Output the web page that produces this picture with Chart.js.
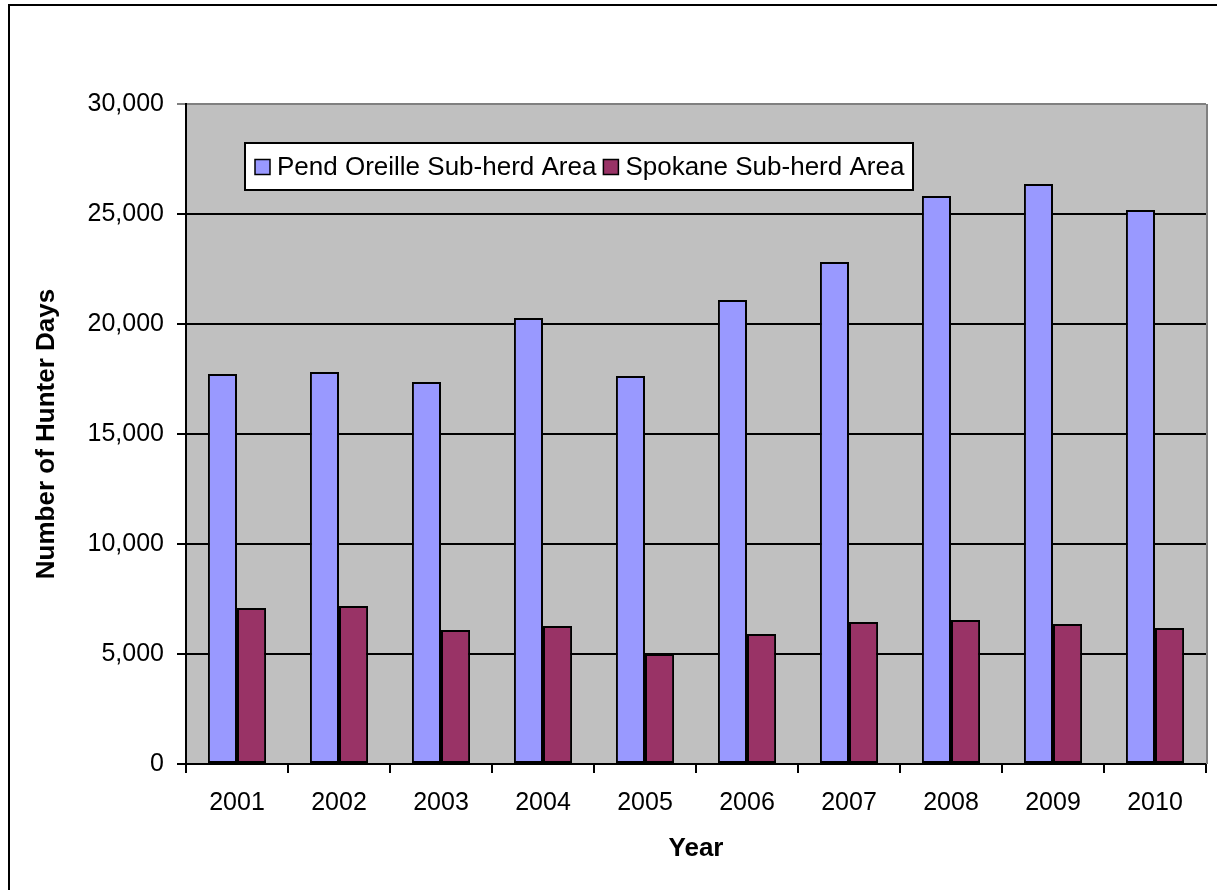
<!DOCTYPE html>
<html>
<head>
<meta charset="utf-8">
<script src="https://cdn.jsdelivr.net/npm/chart.js@4"></script>
<style>
  html, body { margin: 0; padding: 0; background: #fff; }
  #chart { display: block; }
</style>
</head>
<body>
<canvas id="chart" width="1217" height="890"></canvas>
<script>
// data
const years = ['2001', '2002', '2003', '2004', '2005', '2006', '2007', '2008', '2009', '2010'];
const pendOreille = [17730, 17820, 17360, 20270, 17640, 21090, 22820, 25820, 26360, 25180];
const spokane = [7090, 7180, 6090, 6270, 5000, 5910, 6450, 6550, 6360, 6180];
const seriesNames = ['Pend Oreille Sub-herd Area', 'Spokane Sub-herd Area'];
const seriesColors = ['#9999FF', '#993366'];

const FONT = '"Liberation Sans", Arial, sans-serif';

// plot background, outer frame, and the floating legend box
const decorPlugin = {
    id: 'decor',
    beforeDraw(chart) {
        const ctx = chart.ctx;
        const a = chart.chartArea;
        ctx.save();
        ctx.fillStyle = '#fff';
        ctx.fillRect(0, 0, chart.width, chart.height);
        ctx.fillStyle = '#C0C0C0';
        ctx.fillRect(a.left, a.top, a.right - a.left, a.bottom - a.top);
        ctx.restore();
    },
    afterDraw(chart) {
        const ctx = chart.ctx;
        const a = chart.chartArea;
        ctx.save();
        // gray right edge of the plot area
        ctx.strokeStyle = '#808080';
        ctx.lineWidth = 2;
        ctx.beginPath();
        ctx.moveTo(a.right + 1, a.top);
        ctx.lineTo(a.right + 1, a.bottom);
        ctx.stroke();

        // outer frame
        ctx.strokeStyle = '#000';
        ctx.lineWidth = 2;
        ctx.strokeRect(9, 5, chart.width + 10, chart.height + 10);

        // legend
        const lx = 245, ly = 143, lw = 668, lh = 47;
        ctx.fillStyle = '#fff';
        ctx.fillRect(lx, ly, lw, lh);
        ctx.strokeStyle = '#000';
        ctx.lineWidth = 2;
        ctx.strokeRect(lx, ly, lw, lh);
        ctx.font = '26px ' + FONT;
        ctx.textBaseline = 'middle';
        let x = lx + 10;
        const cy = ly + lh / 2;
        chart.data.datasets.forEach((ds) => {
            ctx.fillStyle = ds.backgroundColor;
            ctx.fillRect(x, cy - 7, 15, 15);
            ctx.lineWidth = 1.5;
            ctx.strokeStyle = '#000';
            ctx.strokeRect(x, cy - 7, 15, 15);
            ctx.fillStyle = '#000';
            ctx.fillText(ds.label, x + 22, cy + 1);
            x += 22 + ctx.measureText(ds.label).width + 7;
        });
        ctx.restore();
    }
};

const ctx = document.getElementById('chart').getContext('2d');
new Chart(ctx, {
    type: 'bar',
    data: {
        labels: years,
        datasets: [
            {
                label: seriesNames[0],
                data: pendOreille,
                backgroundColor: seriesColors[0],
                borderColor: '#000',
                borderWidth: 2,
                borderSkipped: false
            },
            {
                label: seriesNames[1],
                data: spokane,
                backgroundColor: seriesColors[1],
                borderColor: '#000',
                borderWidth: 2,
                borderSkipped: false
            }
        ]
    },
    options: {
        responsive: false,
        animation: false,
        layout: { padding: { top: 104, right: 11, left: 0, bottom: 0 } },
        datasets: { bar: { categoryPercentage: 0.57, barPercentage: 1 } },
        plugins: {
            legend: { display: false },
            tooltip: { enabled: false }
        },
        scales: {
            x: {
                offset: true,
                grid: {
                    offset: true,
                    drawOnChartArea: false,
                    drawTicks: true,
                    tickLength: 9,
                    color: '#000',
                    lineWidth: 2
                },
                border: { display: true, color: '#000', width: 2 },
                ticks: {
                    color: '#000',
                    padding: 15,
                    font: { family: FONT, size: 25 }
                },
                title: {
                    display: true,
                    text: 'Year',
                    color: '#000',
                    font: { family: FONT, size: 26, weight: 'bold' },
                    padding: { top: 0, bottom: 26 }
                },
                afterFit(scale) { scale.height = 126; }
            },
            y: {
                min: 0,
                max: 30000,
                grid: {
                    color: (c) => (c.tick && c.tick.value === 30000 ? '#808080' : '#000'),
                    lineWidth: 2,
                    tickLength: 9,
                    drawTicks: true
                },
                border: { display: true, color: '#000', width: 2 },
                ticks: {
                    stepSize: 5000,
                    color: '#000',
                    padding: 13,
                    font: { family: FONT, size: 25 },
                    callback: (v) => v.toLocaleString('en-US')
                },
                title: {
                    display: true,
                    text: 'Number of Hunter Days',
                    color: '#000',
                    font: { family: FONT, size: 26, weight: 'bold' },
                    padding: { top: 31, bottom: 0 }
                },
                afterFit(scale) { scale.width = 186; }
            }
        }
    },
    plugins: [decorPlugin]
});
</script>
</body>
</html>
